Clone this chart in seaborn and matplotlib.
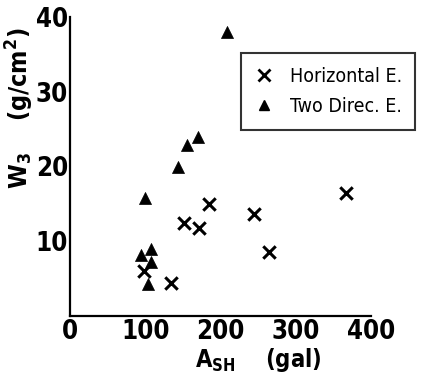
import numpy as np
import pandas as pd
import seaborn as sns
import matplotlib.pyplot as plt
from matplotlib.lines import Line2D

sns.set_style("white")
plt.rcParams['font.family'] = ['DejaVu Sans']
plt.rcParams['font.stretch'] = 'condensed'
plt.rcParams['text.color'] = 'black'
plt.rcParams['axes.labelcolor'] = 'black'

# Data
horiz_x = [367, 185, 244, 152, 172, 264, 98, 134]
horiz_y = [16.4, 15.0, 13.7, 12.4, 11.8, 8.5, 6.0, 4.4]
two_x = [209, 170, 156, 144, 100, 108, 94, 108, 104]
two_y = [38.0, 24.0, 22.9, 20.0, 15.8, 9.0, 8.1, 7.2, 4.3]
labels = ["Horizontal E.", "Two Direc. E."]
xticks = [0, 100, 200, 300, 400]
yticks = [10, 20, 30, 40]

df_h = pd.DataFrame({"A": horiz_x, "W": horiz_y})
df_t = pd.DataFrame({"A": two_x, "W": two_y})

fig = plt.figure(figsize=(4.23, 3.73), dpi=100)
ax = fig.add_axes([70/423, 1-316/373, 301/423, 299/373])

sns.scatterplot(data=df_h, x="A", y="W", marker="x", color="black",
                s=80, linewidth=2.2, ax=ax, legend=False)
sns.scatterplot(data=df_t, x="A", y="W", marker="^", color="black",
                s=75, edgecolor="black", linewidth=0.5, ax=ax, legend=False)

ax.set_xlim(0, 400)
ax.set_ylim(0, 40)
ax.set_xticks(xticks)
ax.set_yticks(yticks)
ax.set_xticklabels([str(t) for t in xticks])
ax.set_yticklabels([str(t) for t in yticks])
for s in ["top", "right"]:
    ax.spines[s].set_visible(False)
for s in ["left", "bottom"]:
    ax.spines[s].set_linewidth(1.6)
    ax.spines[s].set_color("black")
ax.tick_params(axis="both", direction="in", length=14, width=1.6, colors="black",
               labelsize=18.5)
ax.tick_params(axis="y", pad=1.5)
ax.tick_params(axis="x", pad=2.5)
for lab in ax.get_xticklabels() + ax.get_yticklabels():
    lab.set_fontweight("bold")

ax.set_xlabel(r"A$_{\mathregular{SH}}$    (gal)", fontsize=17, fontweight="bold",
              color="black")
ax.xaxis.set_label_coords(0.625, -0.1, transform=ax.transAxes)
ax.xaxis.label.set_va("top")
ax.set_ylabel(r"W$_{\mathregular{3}}$    (g/cm$^{\mathregular{2}}$)", fontsize=18,
              fontweight="bold", color="black")
ax.yaxis.set_label_coords(-0.165, 0.695, transform=ax.transAxes)
ax.yaxis.label.set_va("center")

handles = [Line2D([], [], marker="x", color="black", linestyle="none",
                  markersize=8, markeredgewidth=2.0),
           Line2D([], [], marker="^", color="black", linestyle="none",
                  markersize=7)]
leg = ax.legend(handles, labels, loc="upper left",
                bbox_to_anchor=(241/423, 1-53/373), bbox_transform=fig.transFigure,
                borderaxespad=0, frameon=True, fancybox=False, fontsize=14,
                handlelength=1.0, handletextpad=0.8, borderpad=0.7,
                labelspacing=0.6)
leg.get_frame().set_edgecolor("black")
leg.get_frame().set_linewidth(1.5)
for t in leg.get_texts():
    t.set_color("black")

fig.savefig("out.png", dpi=100)
